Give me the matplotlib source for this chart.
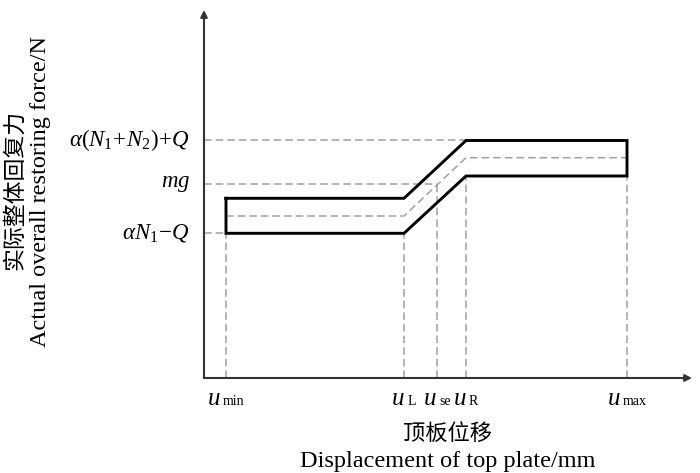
import matplotlib
matplotlib.use("Agg")
import matplotlib.pyplot as plt
from matplotlib.offsetbox import TextArea, HPacker, AnnotationBbox

plt.rcParams['mathtext.fontset'] = 'custom'
plt.rcParams['mathtext.rm'] = 'Liberation Serif'
plt.rcParams['mathtext.it'] = 'Liberation Serif:italic'
plt.rcParams['mathtext.bf'] = 'Liberation Serif:bold'
plt.rcParams['font.family'] = ['Liberation Serif', 'Noto Sans CJK SC']

# ---- data (displacement units / force units, schematic) ----
u_names = ['min', 'L', 'se', 'R', 'max']
u_pos = [22, 200, 233, 262, 423]          # u_min, u_L, u_se, u_R, u_max
u_min, u_L, u_se, u_R, u_max = u_pos

f_names = [r'$\alpha N_1\!-\!Q$', r'$mg$', r'$\alpha(N_1\!+\!N_2)\!+\!Q$']
f_levels = [144.7, 194, 237.5]            # aN1-Q, mg, a(N1+N2)+Q

band_x = [u_min, u_L, u_R, u_max]
band_upper = [179.7, 179.7, 237.5, 237.5]
band_lower = [144.7, 144.7, 202, 202]
band_mid = [162, 162, 220.3, 220.3]

# ---- figure ----
W, H = 700, 473
fig = plt.figure(figsize=(W / 100, H / 100), dpi=100)
ax_left, ax_right, ax_top, ax_bot = 204, 692, 10, 378
ax = fig.add_axes([ax_left / W, (H - ax_bot) / H, (ax_right - ax_left) / W, (ax_bot - ax_top) / H])
ax.set_xlim(0, ax_right - ax_left)
ax.set_ylim(0, ax_bot - ax_top)
for s in ax.spines.values():
    s.set_visible(False)
ax.set_xticks([])
ax.set_yticks([])

axis_col = '#333333'
ax.annotate('', xy=(1, 0), xytext=(0, 0), xycoords='axes fraction',
            arrowprops=dict(arrowstyle='-|>', lw=1.5, color=axis_col, mutation_scale=10, shrinkA=0, shrinkB=0))
ax.annotate('', xy=(0, 1), xytext=(0, 0), xycoords='axes fraction',
            arrowprops=dict(arrowstyle='-|>', lw=1.5, color=axis_col, mutation_scale=10, shrinkA=0, shrinkB=0))

dcol = '#a0a0a0'
dkw = dict(color=dcol, lw=1.1, dashes=(5, 2.6), zorder=1)
# horizontal guides
ax.plot([0, u_R], [f_levels[2]] * 2, **dkw)
ax.plot([0, u_se], [f_levels[1]] * 2, **dkw)
ax.plot([0, u_min], [f_levels[0]] * 2, **dkw)
# vertical guides
ax.plot([u_min, u_min], [0, band_lower[0]], **dkw)
ax.plot([u_L, u_L], [0, band_lower[1]], **dkw)
ax.plot([u_se, u_se], [0, f_levels[1]], **dkw)
ax.plot([u_R, u_R], [0, band_lower[2]], **dkw)
ax.plot([u_max, u_max], [0, band_lower[3]], **dkw)
# middle dashed line
ax.plot(band_x, band_mid, **dkw)

# band outline
px = band_x + band_x[::-1] + [band_x[0]]
py = band_upper + band_lower[::-1] + [band_upper[0]]
ax.plot(px, py, color='black', lw=2.1, solid_joinstyle='miter', zorder=3)

# x tick labels: italic u with small subscript
for name, x in zip(u_names, u_pos):
    ta_u = TextArea('u', textprops=dict(fontsize=18, style='italic', family='Liberation Serif'))
    ta_s = TextArea(name, textprops=dict(fontsize=10, family='Liberation Serif'))
    box = HPacker(children=[ta_u, ta_s], align='baseline', pad=0, sep=2)
    ab = AnnotationBbox(box, (x, -10), xycoords='data', box_alignment=(0.5, 1.0),
                        frameon=False, pad=0, annotation_clip=False)
    ax.add_artist(ab)

# y tick labels
for name, y in zip(f_names, f_levels):
    ax.text(-14, y, name, ha='right', va='center', fontsize=16.5)

# axis titles
fig.text(448 / W, 1 - 433 / H, '顶板位移', ha='center', va='center', fontsize=16,
         family=['Noto Sans CJK SC'])
fig.text(448 / W, 1 - 461 / H, 'Displacement of top plate/mm', ha='center', va='center', fontsize=17.5)
fig.text(15 / W, 1 - 190 / H, '实际整体回复力', ha='center', va='center', fontsize=16.5, rotation=90,
         family=['Noto Sans CJK SC'])
fig.text(41 / W, 1 - 191 / H, 'Actual overall restoring force/N', ha='center', va='center', fontsize=17.5,
         rotation=90)

fig.savefig('out.png', dpi=100)
